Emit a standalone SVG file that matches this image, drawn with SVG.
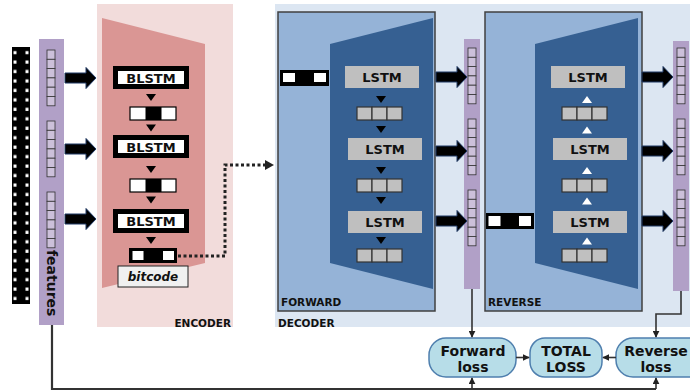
<svg xmlns="http://www.w3.org/2000/svg" width="690" height="392" viewBox="0 0 690 392">
<style>
  .lbl{font-family:"DejaVu Sans",Verdana,sans-serif;font-weight:bold;fill:#111}
  .sec{font-size:10.5px}
  .blstm{font-size:13px;text-anchor:middle}
  .lstm{font-size:13px;text-anchor:middle}
  .loss{font-size:14px;text-anchor:middle}
  .cell{fill:#ccc0da;stroke:#333;stroke-width:0.8}
  .gcell{fill:#c0c0c0;stroke:#333;stroke-width:1.2}
  .purple{fill:#b1a0c7}
  .panel{fill:#95b3d7;stroke:#404040;stroke-width:1.5}
  .trap{fill:#366092}
  .lossbox{fill:#b7dde8;stroke:#4f7fae;stroke-width:1.5}
  .wire{fill:none;stroke:#333;stroke-width:1.6}
  .big{fill:#000;stroke:#1f3864;stroke-width:1}
</style>
<defs>
  <pattern id="holes" patternUnits="userSpaceOnUse" x="12" y="50.5" width="18" height="9.46">
    <rect x="1.5" y="0.5" width="3" height="3.2" fill="#fff"/>
    <rect x="13.5" y="0.5" width="3" height="3.2" fill="#fff"/>
  </pattern>
  <path id="bigarrow" d="M0,-5 H21 V-10.5 L31,0 L21,10.5 V5 H0 Z"/>
  <path id="tdown" d="M-5,0 H5 L0,7 Z"/>
  <path id="tup" d="M-5,7 H5 L0,0 Z"/>
  <g id="stack">
    <rect class="cell" x="0" y="0" width="8" height="9.3"/>
    <rect class="cell" x="0" y="9.3" width="8" height="9.3"/>
    <rect class="cell" x="0" y="18.6" width="8" height="9.3"/>
    <rect class="cell" x="0" y="27.9" width="8" height="9.3"/>
    <rect class="cell" x="0" y="37.2" width="8" height="9.3"/>
    <rect class="cell" x="0" y="46.5" width="8" height="9.3"/>
  </g>
  <g id="gvec">
    <rect class="gcell" x="0" y="0" width="15" height="13"/>
    <rect class="gcell" x="15" y="0" width="15" height="13"/>
    <rect class="gcell" x="30" y="0" width="15" height="13"/>
  </g>
  <g id="bvec">
    <rect x="0" y="0" width="46" height="13" fill="#fff" stroke="#000" stroke-width="1.2"/>
    <rect x="15.5" y="0" width="16" height="13" fill="#000"/>
  </g>
  <marker id="ah" viewBox="0 0 10 10" refX="9" refY="5" markerWidth="7" markerHeight="7" markerUnits="userSpaceOnUse" orient="auto">
    <path d="M0,0 L10,5 L0,10 Z" fill="#222"/>
  </marker>
</defs>

<!-- backgrounds -->
<g id="encoder">
  <rect x="97" y="4" width="136" height="323" fill="#f2dcdb"/>
  <polygon points="102,18 205,44 205,263 102,288" fill="#da9694"/>
  <text class="lbl sec" x="231" y="327" text-anchor="end">ENCODER</text>
</g>
<g id="decoder">
  <rect x="275" y="4" width="415" height="323" fill="#dce6f2"/>
  <text class="lbl sec" x="278" y="326.5">DECODER</text>
</g>
<g id="forward">
  <rect class="panel" x="278" y="12" width="157" height="299"/>
  <polygon class="trap" points="330,44 433,18 433,289 330,263"/>
  <text class="lbl sec" x="281" y="306">FORWARD</text>
</g>
<g id="reverse">
  <rect class="panel" x="485" y="12" width="157" height="299"/>
  <polygon class="trap" points="535,44 638,18 638,289 535,263"/>
  <text class="lbl sec" x="488" y="306">REVERSE</text>
</g>

<!-- film strip -->
<g id="film">
  <rect x="12" y="47" width="18" height="257" fill="#000"/>
  <rect x="12" y="50.5" width="18" height="250" fill="url(#holes)"/>
</g>

<!-- features column -->
<g id="features">
  <rect class="purple" x="39" y="39" width="25" height="286"/>
  <use href="#stack" x="47" y="50"/>
  <use href="#stack" x="47" y="121"/>
  <use href="#stack" x="47" y="192"/>
  <text class="lbl" font-size="14" transform="translate(46.5,250) rotate(90)">features</text>
</g>

<!-- encoder blocks -->
<g id="blstm1">
  <rect x="113" y="66" width="76" height="23" fill="#000"/>
  <rect x="118" y="71" width="66" height="13" fill="#fff"/>
  <text class="lbl blstm" x="151" y="82.5">BLSTM</text>
</g>
<g id="blstm2">
  <rect x="113" y="135" width="76" height="23" fill="#000"/>
  <rect x="118" y="140" width="66" height="13" fill="#fff"/>
  <text class="lbl blstm" x="151" y="151.5">BLSTM</text>
</g>
<g id="blstm3">
  <rect x="113" y="209" width="76" height="24" fill="#000"/>
  <rect x="118" y="214" width="66" height="14" fill="#fff"/>
  <text class="lbl blstm" x="151" y="226">BLSTM</text>
</g>
<g id="encvecs">
  <use href="#bvec" x="130" y="107"/>
  <use href="#bvec" x="130" y="179"/>
  <use href="#tdown" x="151" y="94"/>
  <use href="#tdown" x="151" y="124.5"/>
  <use href="#tdown" x="151" y="166"/>
  <use href="#tdown" x="151" y="196.5"/>
  <use href="#tdown" x="151" y="237"/>
</g>
<g id="bitcode">
  <rect x="129" y="248" width="48" height="15" fill="#000"/>
  <rect x="132.5" y="251" width="11" height="9" fill="#fff"/>
  <rect x="163" y="251" width="11" height="9" fill="#fff"/>
  <rect x="118" y="266" width="70" height="21" fill="#f0f0f0" stroke="#222" stroke-width="1"/>
  <text class="lbl" font-size="12" font-style="italic" x="153" y="281" text-anchor="middle">bitcode</text>
</g>

<!-- forward decoder blocks -->
<g id="fwdin">
  <rect x="280" y="70" width="49" height="16" fill="#000"/>
  <rect x="283" y="73" width="12" height="9" fill="#fff"/>
  <rect x="314" y="73" width="12" height="9" fill="#fff"/>
</g>
<g id="flstm1"><rect x="345" y="66" width="74" height="22" fill="#bfbfbf"/><text class="lbl lstm" x="382" y="82">LSTM</text></g>
<g id="flstm2"><rect x="348" y="138" width="74" height="22" fill="#bfbfbf"/><text class="lbl lstm" x="385" y="154">LSTM</text></g>
<g id="flstm3"><rect x="348" y="211" width="74" height="22" fill="#bfbfbf"/><text class="lbl lstm" x="385" y="227">LSTM</text></g>
<g id="fwdvecs">
  <use href="#gvec" x="357" y="107"/>
  <use href="#gvec" x="357" y="179"/>
  <use href="#gvec" x="357" y="249"/>
  <use href="#tdown" x="381" y="96"/>
  <use href="#tdown" x="381" y="126"/>
  <use href="#tdown" x="381" y="167"/>
  <use href="#tdown" x="381" y="197"/>
  <use href="#tdown" x="381" y="237"/>
</g>

<!-- reverse decoder blocks -->
<g id="revin">
  <rect x="486" y="213" width="48" height="16" fill="#000"/>
  <rect x="488.5" y="216" width="12" height="10" fill="#fff"/>
  <rect x="519" y="216" width="12" height="10" fill="#fff"/>
</g>
<g id="rlstm1"><rect x="551" y="66" width="74" height="22" fill="#bfbfbf"/><text class="lbl lstm" x="588" y="82">LSTM</text></g>
<g id="rlstm2"><rect x="553" y="138" width="74" height="22" fill="#bfbfbf"/><text class="lbl lstm" x="590" y="154">LSTM</text></g>
<g id="rlstm3"><rect x="553" y="211" width="74" height="22" fill="#bfbfbf"/><text class="lbl lstm" x="590" y="227">LSTM</text></g>
<g id="revvecs" fill="#fff">
  <use href="#gvec" x="562" y="107"/>
  <use href="#gvec" x="562" y="179"/>
  <use href="#gvec" x="562" y="249"/>
  <use href="#tup" x="587" y="96" fill="#fff"/>
  <use href="#tup" x="587" y="126.5" fill="#fff"/>
  <use href="#tup" x="587" y="167" fill="#fff"/>
  <use href="#tup" x="587" y="197.5" fill="#fff"/>
  <use href="#tup" x="587" y="237.5" fill="#fff"/>
</g>

<!-- output columns -->
<g id="fwdout">
  <rect class="purple" x="464" y="39" width="16" height="250"/>
  <use href="#stack" x="468" y="48"/>
  <use href="#stack" x="468" y="119"/>
  <use href="#stack" x="468" y="190"/>
</g>
<g id="revout">
  <rect class="purple" x="673" y="41" width="16" height="250"/>
  <use href="#stack" x="677" y="48"/>
  <use href="#stack" x="677" y="119"/>
  <use href="#stack" x="677" y="190"/>
</g>

<!-- loss nodes -->
<g id="fwdloss">
  <rect class="lossbox" x="429" y="338" width="87" height="39" rx="17"/>
  <text class="lbl loss" x="473" y="356">Forward</text>
  <text class="lbl loss" x="473" y="372">loss</text>
</g>
<g id="totalloss">
  <rect class="lossbox" x="530" y="338" width="72" height="39" rx="15" stroke="#2f5a8c" stroke-width="2.5"/>
  <text class="lbl loss" x="566" y="356">TOTAL</text>
  <text class="lbl loss" x="566" y="372">LOSS</text>
</g>
<g id="revloss">
  <rect class="lossbox" x="616" y="338" width="90" height="39" rx="17"/>
  <text class="lbl loss" x="656" y="356">Reverse</text>
  <text class="lbl loss" x="656" y="372">loss</text>
</g>

<!-- connectors -->
<g id="connectors">
  <use href="#bigarrow" class="big" x="65" y="78"/>
  <use href="#bigarrow" class="big" x="65" y="149"/>
  <use href="#bigarrow" class="big" x="65" y="219"/>
  <use href="#bigarrow" class="big" x="436" y="77"/>
  <use href="#bigarrow" class="big" x="436" y="151"/>
  <use href="#bigarrow" class="big" x="436" y="221"/>
  <use href="#bigarrow" class="big" x="642" y="77"/>
  <use href="#bigarrow" class="big" x="642" y="151"/>
  <use href="#bigarrow" class="big" x="642" y="221"/>
  <path d="M178,256 H225 V165 H266" fill="none" stroke="#222" stroke-width="3" stroke-dasharray="3 2.5"/>
  <polygon points="265,160 274,165 265,170" fill="#222"/>
  <path class="wire" d="M472,289 V337" marker-end="url(#ah)"/>
  <path class="wire" d="M681,291 V314 H656 V337" marker-end="url(#ah)"/>
  <path class="wire" d="M516,357.5 H529" marker-end="url(#ah)"/>
  <path class="wire" d="M616,357.5 H603" marker-end="url(#ah)"/>
  <path d="M52,325 V389 H656" fill="none" stroke="#333" stroke-width="2.2"/>
  <path class="wire" d="M472,389 V378" marker-end="url(#ah)"/>
  <path class="wire" d="M656,389 V378" marker-end="url(#ah)"/>
</g>
</svg>
